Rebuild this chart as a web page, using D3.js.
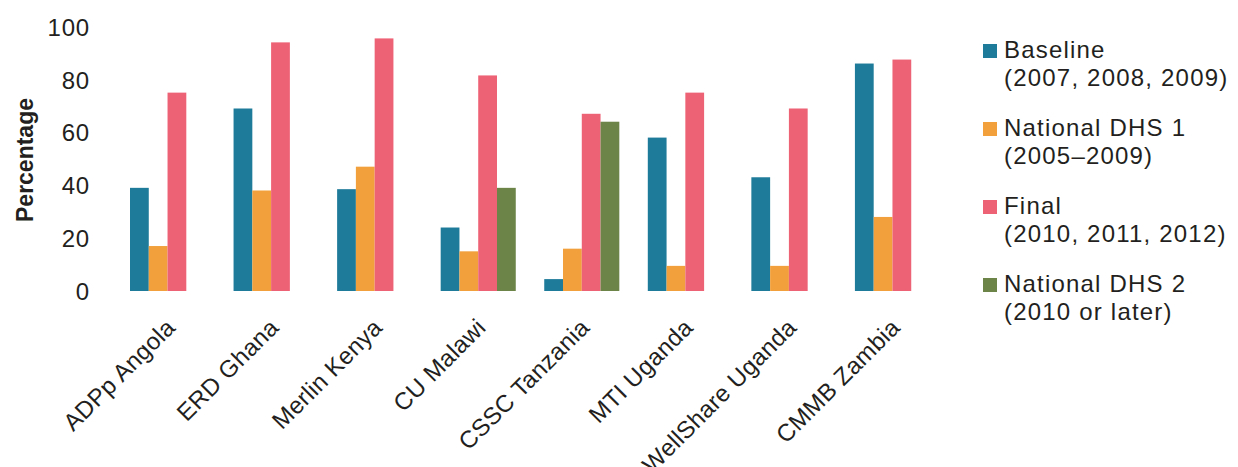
<!DOCTYPE html>
<html>
<head>
<meta charset="utf-8">
<script src="https://cdn.jsdelivr.net/npm/d3@7"></script>
<style>
  html, body { margin: 0; padding: 0; background: #ffffff; }
  svg { display: block; font-family: "Liberation Sans", Arial, sans-serif; }
</style>
</head>
<body>
<svg id="chart" width="1238" height="467"></svg>
<script>
// Programme sites along the x axis
const categories = [
  "ADPp Angola", "ERD Ghana", "Merlin Kenya", "CU Malawi",
  "CSSC Tanzania", "MTI Uganda", "WellShare Uganda", "CMMB Zambia"
];

// Percentages per series (null = no bar for that site)
const baseline   = [39, 69, 38.5, 24, 4.5, 58, 43, 86];
const nationalDHS1 = [17, 38, 47, 15, 16, 9.5, 9.5, 28];
const finalValues  = [75, 94, 95.5, 81.5, 67, 75, 69, 87.5];
const nationalDHS2 = [null, null, null, 39, 64, null, null, null];

const seriesNames  = ["Baseline", "National DHS 1", "Final", "National DHS 2"];
const seriesLabels = [
  ["Baseline", "(2007, 2008, 2009)"],
  ["National DHS 1", "(2005\u20132009)"],
  ["Final", "(2010, 2011, 2012)"],
  ["National DHS 2", "(2010 or later)"]
];
const seriesColors = ["#1e7b9a", "#f1a03b", "#ee6275", "#6c8448"];
const seriesValues = [baseline, nationalDHS1, finalValues, nationalDHS2];

const yTicks = [0, 20, 40, 60, 80, 100];

const svg = d3.select("#chart");
const textColor = "#231f20";

const x = d3.scaleBand()
  .domain(categories)
  .range([130, 930])
  .paddingInner(0.275)
  .paddingOuter(0);

const xs = d3.scaleBand()
  .domain(seriesNames)
  .range([0, x.bandwidth()])
  .padding(0);

const y = d3.scaleLinear()
  .domain([0, 100])
  .range([291, 26.5]);

// Bars
const rows = categories.map((c, i) => ({
  cat: c,
  vals: seriesNames.map((s, k) => ({ s, k, v: seriesValues[k][i] }))
}));

const groups = svg.append("g").selectAll("g")
  .data(rows)
  .join("g")
  .attr("transform", d => `translate(${x(d.cat)},0)`);

groups.selectAll("rect")
  .data(d => d.vals.filter(v => v.v != null))
  .join("rect")
  .attr("x", d => xs(d.s))
  .attr("width", xs.bandwidth())
  .attr("y", d => y(d.v))
  .attr("height", d => y(0) - y(d.v))
  .attr("fill", d => seriesColors[d.k]);

// Y axis (labels only)
const yAxis = d3.axisLeft(y).tickValues(yTicks).tickSize(0).tickPadding(0);
const yg = svg.append("g")
  .attr("transform", "translate(90,0)")
  .call(yAxis);
yg.select(".domain").remove();
yg.selectAll("text")
  .attr("font-size", 24)
  .attr("font-family", "Liberation Sans, Arial, sans-serif")
  .attr("letter-spacing", "0.8px")
  .attr("fill", textColor)
  .attr("dy", "0.36em");

// Y axis title
svg.append("text")
  .attr("transform", "translate(33,160) rotate(-90)")
  .attr("text-anchor", "middle")
  .attr("font-size", 23)
  .attr("font-weight", "bold")
  .attr("fill", textColor)
  .text("Percentage");

// X axis labels, rotated
const xAxis = d3.axisBottom(x).tickSize(0).tickPadding(0);
const xg = svg.append("g")
  .attr("transform", `translate(0,${y(0)})`)
  .call(xAxis);
xg.select(".domain").remove();
xg.selectAll(".tick text")
  .attr("font-size", 24)
  .attr("font-family", "Liberation Sans, Arial, sans-serif")
  .attr("letter-spacing", "0.3px")
  .attr("fill", textColor)
  .attr("text-anchor", "end")
  .attr("dy", 0)
  .attr("transform", "translate(9,38) rotate(-45)");

// Legend
const legend = svg.append("g").attr("transform", "translate(983,58)");
const items = legend.selectAll("g")
  .data(seriesLabels)
  .join("g")
  .attr("transform", (d, i) => `translate(0,${i * 78})`);

items.append("rect")
  .attr("x", 0)
  .attr("y", -14)
  .attr("width", 14)
  .attr("height", 14)
  .attr("fill", (d, i) => seriesColors[i]);

items.append("text")
  .attr("x", 21)
  .attr("y", 0)
  .attr("font-size", 24)
  .attr("letter-spacing", "1.2px")
  .attr("fill", textColor)
  .text(d => d[0]);

items.append("text")
  .attr("x", 21)
  .attr("y", 28)
  .attr("font-size", 24)
  .attr("letter-spacing", "1.2px")
  .attr("fill", textColor)
  .text(d => d[1]);
</script>
</body>
</html>
